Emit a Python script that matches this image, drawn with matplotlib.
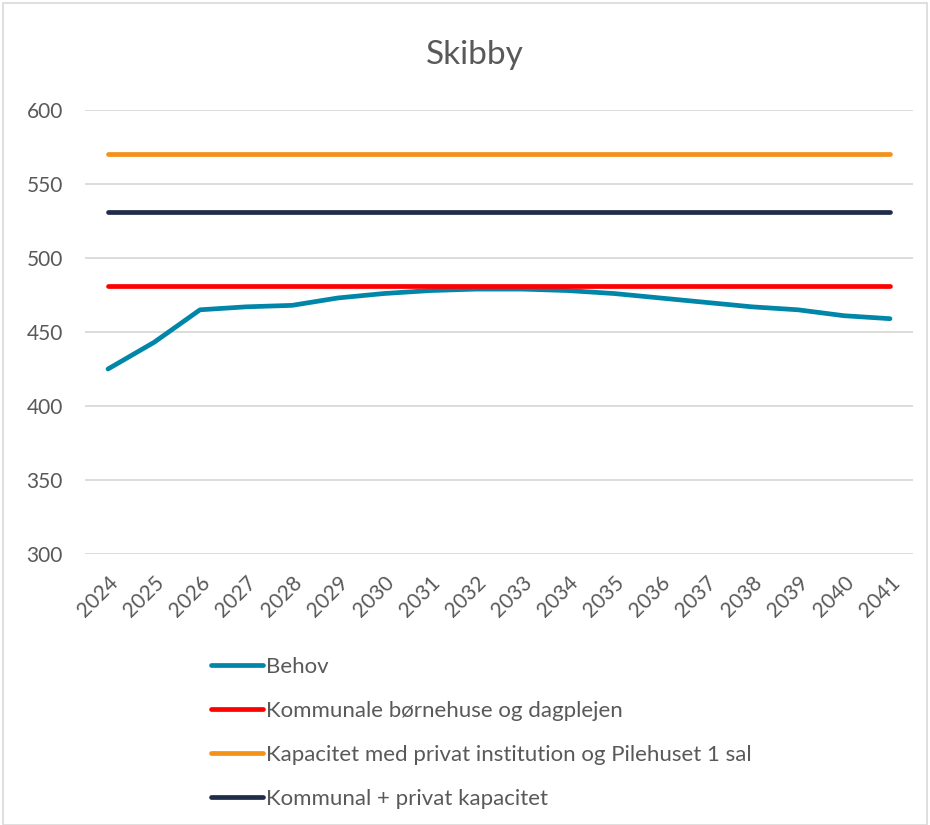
import matplotlib
matplotlib.use("Agg")
import matplotlib.pyplot as plt
from matplotlib.patches import Rectangle

years = [str(y) for y in range(2024, 2042)]
behov = [425, 443, 465, 467, 468, 473, 476, 478, 479, 479, 478, 476, 473, 470, 467, 465, 461, 459]
kommunale = [481] * 18
kapacitet_pilehuset = [570] * 18
kommunal_privat = [531] * 18

labels = ["Behov", "Kommunale børnehuse og dagplejen",
          "Kapacitet med privat institution og Pilehuset 1 sal",
          "Kommunal + privat kapacitet"]
colors = ["#0086A8", "#FF0000", "#F39118", "#1F2D4B"]

plt.rcParams['font.family'] = ['Lato', 'DejaVu Sans']
txt = "#595959"

fig = plt.figure(figsize=(9.3, 8.25), dpi=100)
ax = fig.add_axes([85/930, 1-554/825, (913-85)/930, (554-110)/825])

x = list(range(len(years)))
lw = 3.4
series = [behov, kommunale, kapacitet_pilehuset, kommunal_privat]
handles = []
for s, c, l in zip(series, colors, labels):
    h, = ax.plot(x, s, color=c, lw=lw, solid_capstyle='round', solid_joinstyle='round', label=l, zorder=3)
    handles.append(h)

ax.set_xlim(-0.5, len(years) - 0.5)
ax.set_ylim(300, 600)
ax.set_yticks(range(300, 601, 50))
ax.set_xticks(x)
ax.set_xticklabels(years, rotation=45, ha='right', rotation_mode='anchor')
ax.grid(axis='y', color='#D9D9D9', lw=1.3)
ax.set_axisbelow(True)
for sp in ax.spines.values():
    sp.set_visible(False)
ax.tick_params(axis='both', length=0, colors=txt, labelsize=15)
ax.tick_params(axis='y', pad=16)
ax.tick_params(axis='x', pad=13)

fig.text(475/930, 1-55/825, "Skibby", ha='center', va='center', fontsize=24, color=txt)

leg = fig.legend(handles=handles, labels=labels, loc='upper left',
                 bbox_to_anchor=(191/930, 1-637/825), frameon=False,
                 fontsize=16, handlelength=2.35, handletextpad=0.12,
                 labelspacing=1.08, labelcolor=txt)

fig.patches.append(Rectangle((3/930, 0), 1-6/930, 1-3/825, transform=fig.transFigure,
                             fill=False, edgecolor='#D9D9D9', lw=1.2))

fig.savefig("out.png", dpi=100)
